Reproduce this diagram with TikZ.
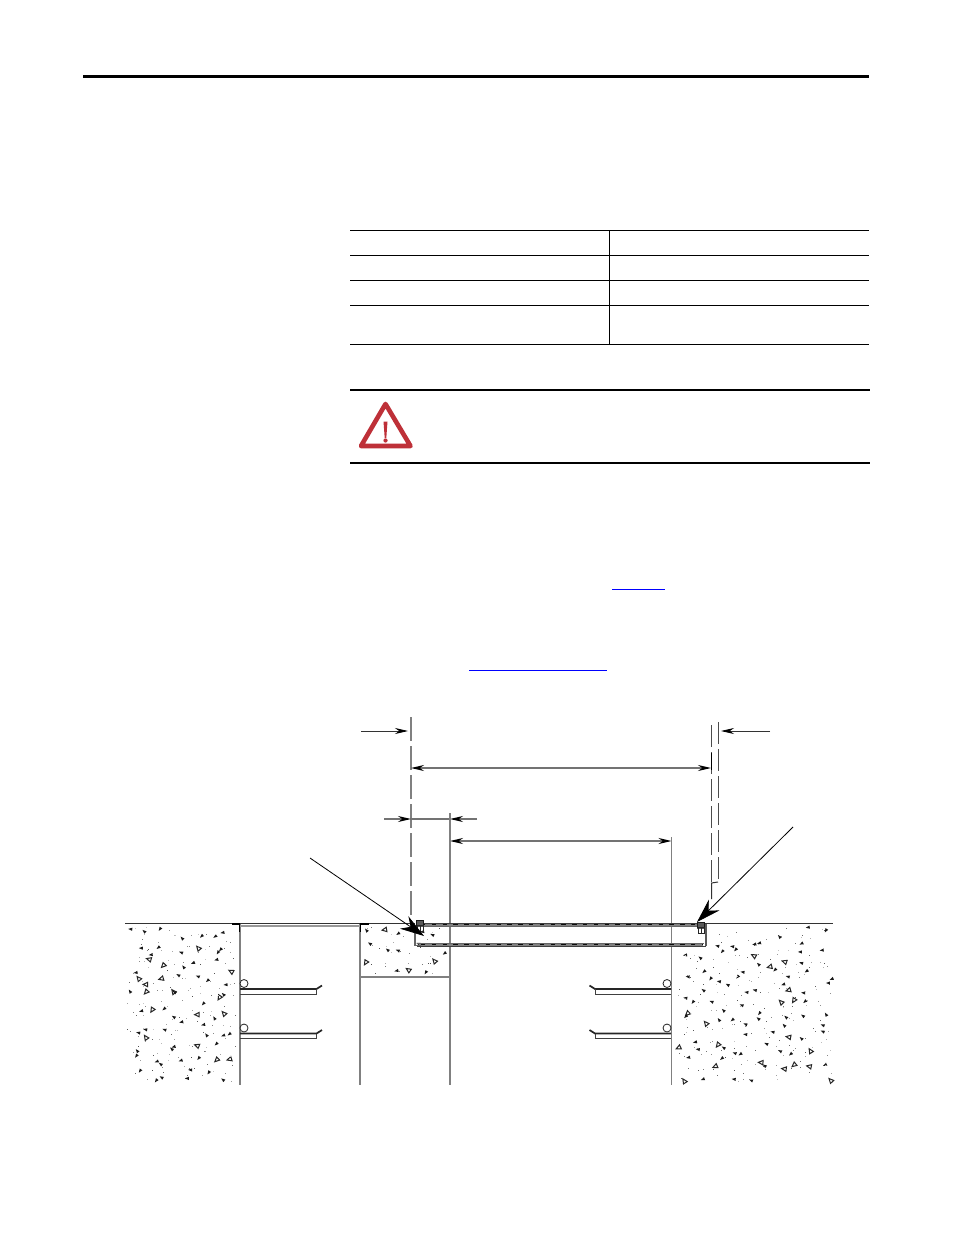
\documentclass[tikz,border=0pt]{standalone}
\usetikzlibrary{arrows.meta}
\definecolor{warnred}{HTML}{BE3038}
\definecolor{linkblue}{HTML}{0000FF}
\definecolor{dimgray}{gray}{0.45}
\tikzset{
  px/.style={line width=#1*0.5pt},
  tablerule/.style={px=1,black},
  heavyrule/.style={px=2,black},
  linkrule/.style={px=1,linkblue},
  dimline/.style={px=1.4,dimgray,{Stealth[length=6.5pt,width=3pt,black]}-{Stealth[length=6.5pt,width=3pt,black]}},
  pointer/.style={px=0.8,black!80,-{Stealth[length=6.5pt,width=3pt,black]}},
  bigpointer/.style={px=0.8,black,-{Stealth[length=12pt,width=7.5pt]}},
  longdash/.style={px=1.4,gray,dash pattern=on 12pt off 2.5pt},
  longdashdark/.style={px=1,black!70,dash pattern=on 11pt off 2.5pt},
  wall/.style={px=1.5,black!50},
  thinwall/.style={px=1.1,black!50},
  ground/.style={px=1,black!80},
  corner/.style={px=1.8,black},
  slabrow/.style={px=2.4,black!50},
  slabtick/.style={px=1.6,black!95,dash pattern=on 2.2pt off 3.2pt},
  traytop/.style={px=1.7,black!85},
  traybot/.style={px=0.9,black!75},
  pipe/.style={px=0.8,black!85,fill=white},
}
% jittered grid: x0, number of columns, y0, number of rows, cell width, cell height
\newcommand{\speckle}[6]{%
  \foreach \cc in {1,...,#2}{
    \foreach \rr in {1,...,#4}{
      \pgfmathsetmacro{\sx}{#1+(\cc-1+rnd)*#5}
      \pgfmathsetmacro{\sy}{#3+(\rr-1+rnd)*#6}
      \pgfmathsetmacro{\sa}{180+(rnd-0.5)*120}
      \pgfmathsetmacro{\kind}{rnd}
      \ifdim\kind pt<0.82pt
        \fill[black!90,shift={(\sx,\sy)},rotate=\sa] (-1.7,-1.6)--(2.3,0)--(-1.7,1.6)--cycle;
      \else
        \draw[px=1,black!85,shift={(\sx,\sy)},rotate=\sa] (-2.2,-2.2)--(2.4,0)--(-2.2,2.2)--cycle;
      \fi
      \foreach \dd in {1,2}{
        \pgfmathsetmacro{\px}{#1+(\cc-1+rnd)*#5}
        \pgfmathsetmacro{\py}{#3+(\rr-1+rnd)*#6}
        \pgfmathsetmacro{\sg}{20+rnd*50}
        \fill[black!\sg] (\px,\py) rectangle ++(1,1);
      }
    }
  }
}
\begin{document}
\begin{tikzpicture}[x=0.5pt,y=-0.5pt]
\useasboundingbox (0,0) rectangle (954,1235);
\fill[white] (0,0) rectangle (954,1235);

% header rule
\draw[px=3,black] (83,76.5) -- (869,76.5);

% table
\foreach \yy in {230.5,255.5,280.5,305.5,344.5} \draw[tablerule] (350,\yy) -- (869,\yy);
\draw[tablerule] (609.5,230.5) -- (609.5,344.5);

% warning block
\draw[heavyrule] (350,390) -- (870,390);
\draw[heavyrule] (350,462.5) -- (870,462.5);
\draw[warnred,px=4.6,line join=round] (385.5,404) -- (361,446) -- (410.5,446) -- cycle;
\fill[warnred] (383.5,421.5) -- (387.5,421.5) -- (386.3,438) -- (384.7,438) -- cycle;
\fill[warnred] (385.5,440.5) circle (2.1);

% links
\draw[linkrule] (612,589.5) -- (665,589.5);
\draw[linkrule] (469,670.5) -- (607,670.5);

% concrete texture
\pgfmathsetseed{4127}
\speckle{127}{7}{927}{10}{15.5}{15.5}
\speckle{364}{5}{927}{3}{16.5}{16}
\speckle{677}{10}{948}{8}{15.5}{16.7}
\speckle{709}{8}{927}{1}{15.5}{20}

% named points
\coordinate (dL) at (411,717); \coordinate (dLb) at (411,922);
\coordinate (dR1) at (711,725); \coordinate (dR1b) at (711,882);
\coordinate (dR2) at (718,722); \coordinate (dR2b) at (718,882);
\coordinate (jog) at (711.5,883); \coordinate (jogb) at (711.5,899);
\coordinate (aL) at (411,768); \coordinate (aR) at (711,768);
\coordinate (bL) at (450,841); \coordinate (bR) at (671.5,841);
\coordinate (cL) at (411,819); \coordinate (cR) at (450,819);

% extension lines
\draw[longdash] (dL) -- (dLb);
\draw[longdashdark] (dR1) -- (dR1b);
\draw[longdashdark] (dR2) -- (dR2b);
\draw[px=1,black!80] (dR2b) -- (jog) -- (jogb);
\draw[px=1,black] (711,753) -- (711,770);

% dimensions
\draw[dimline] (aL) -- (aR);
\draw[dimline] (bL) -- (bR);
\draw[px=1.2,dimgray] (cL) -- (cR);
\draw[px=1.2,dimgray,-{Stealth[length=6.5pt,width=3pt,black]}] (384,819) -- (cL);
\draw[px=1.2,dimgray,-{Stealth[length=6.5pt,width=3pt,black]}] (477,819) -- (cR);
\draw[pointer] (361,731) -- (408,731);
\draw[pointer] (770,731) -- (721,731);

% walls
\draw[wall] (240,923) -- (240,1085);
\draw[wall] (360,923) -- (360,1085);
\draw[wall] (450,813) -- (450,1085);
\draw[thinwall] (671.5,837) -- (671.5,1085);
\draw[thinwall] (360,977) -- (450,977);

% ground
\draw[ground] (125,923) -- (415,923);
\draw[ground] (700,923) -- (833,923);
\draw[px=1.4,black!40] (240,926) -- (360,926);
\draw[corner] (232,924) -- (239.5,924) -- (239.5,932);
\draw[corner] (369,924) -- (360.5,924) -- (360.5,932);

% slab
\foreach \sy in {924.5,944.5}{
  \draw[slabrow] (419,\sy) -- (703,\sy);
  \draw[slabtick] (421,\sy) -- (703,\sy);
}
\draw[px=0.8,black!75] (419,923) -- (703,923);
\draw[px=0.8,black!60] (419,926) -- (697,926);
\draw[px=0.8,black!60] (417,943) -- (704,943);
\draw[px=0.8,black!75] (417,946) -- (706,946);
\draw[px=1.7,black!60] (415,930) -- (415,945.5) -- (421,945.5);
\draw[px=1.7,black!65] (706,924) -- (706,946);
% anchors
\foreach \bx/\by in {420/924,701/926}{
  \fill[black!65] (\bx-4.5,\by-4) rectangle (\bx+4,\by+3);
  \draw[px=1,black!90] (\bx-4,\by-3.5) rectangle (\bx+3.5,\by+1);
  \draw[px=1,black!85] (\bx-3,\by+1) rectangle (\bx+3,\by+7);
  \draw[px=0.8,black!85] (\bx,\by+1) -- (\bx,\by+7);
}

% cable trays
\foreach \ty in {0,44.5}{
  \draw[traytop] (240,{989+\ty}) -- (316.5,{989+\ty}) -- (322,{985.5+\ty});
  \draw[traybot] (240,{994+\ty}) -- (316.5,{994+\ty}) -- (316.5,{989+\ty});
  \draw[pipe] (244,{983.5+\ty}) circle (4);
  \draw[traytop] (671,{989+\ty}) -- (595,{989+\ty}) -- (589.5,{985.5+\ty});
  \draw[traybot] (671,{994+\ty}) -- (595,{994+\ty}) -- (595,{989+\ty});
  \draw[pipe] (667,{983.5+\ty}) circle (4);
}

% leaders
\coordinate (lA) at (310,858); \coordinate (lAend) at (424,936);
\coordinate (lB) at (793,827); \coordinate (lBend) at (697,922);
\draw[bigpointer] (lA) -- (lAend);
\draw[bigpointer] (lB) -- (lBend);
\end{tikzpicture}
\end{document}
